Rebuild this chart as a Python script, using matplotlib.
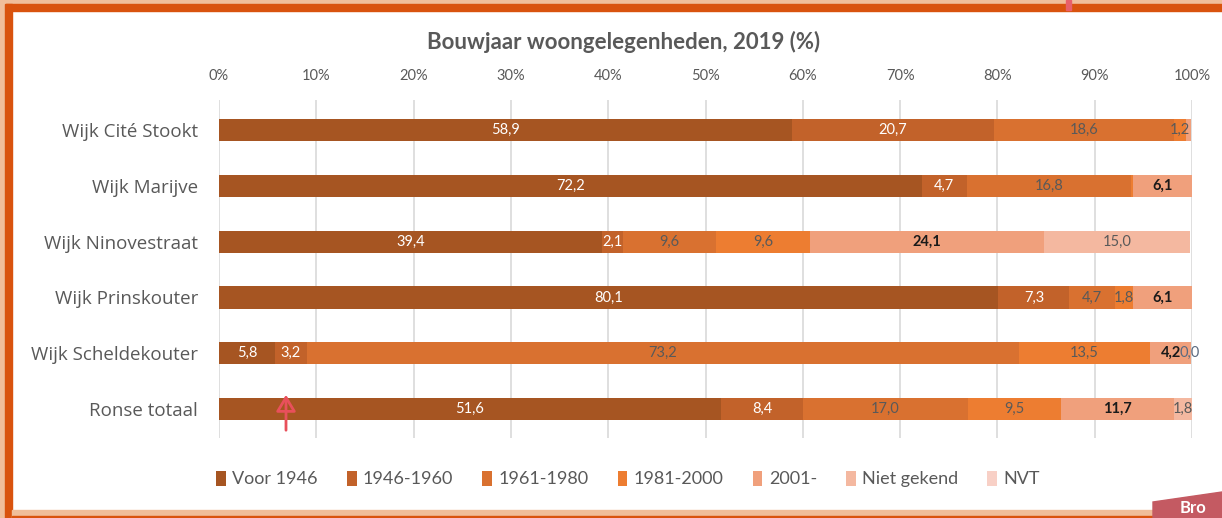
import matplotlib.pyplot as plt
import matplotlib.patches as mpatches
import numpy as np

plt.rcParams['font.family'] = ['Lato', 'DejaVu Sans']

wijken = ['Wijk Cité Stookt', 'Wijk Marijve', 'Wijk Ninovestraat', 'Wijk Prinskouter',
          'Wijk Scheldekouter', 'Ronse totaal']
reeksen = ['Voor 1946', '1946-1960', '1961-1980', '1981-2000', '2001-', 'Niet gekend', 'NVT']

voor_1946 = [58.9, 72.2, 39.4, 80.1, 5.8, 51.6]
j1946_1960 = [20.7, 4.7, 2.1, 7.3, 3.2, 8.4]
j1961_1980 = [18.6, 16.8, 9.6, 4.7, 73.2, 17.0]
j1981_2000 = [1.2, 0.2, 9.6, 1.8, 13.5, 9.5]
j2001 = [0.5, 6.1, 24.1, 6.1, 4.2, 11.7]
niet_gekend = [0.0, 0.0, 15.0, 0.0, 0.0, 1.8]
nvt = [0.0, 0.0, 0.0, 0.0, 0.0, 0.0]

# (row, series) where Excel still showed a 0,0 label
toon_nul = {(4, 5)}

kleuren = ['#A65522', '#C2622A', '#D97130', '#ED7D31', '#F0A07C', '#F4B8A0', '#F8D0C6']
label_kleur = ['white', 'white', '#595959', '#595959', '#1a1a1a', '#595959', '#595959']
label_vet = [False, False, False, False, True, False, False]

data = [voor_1946, j1946_1960, j1961_1980, j1981_2000, j2001, niet_gekend, nvt]

fig = plt.figure(figsize=(12.22, 5.18), dpi=100)
W, H = 1222, 518

ax = fig.add_axes([219 / W, 1 - 438 / H, (1192 - 219) / W, (438 - 100) / H])
y = np.arange(len(wijken))
links = np.zeros(len(wijken))
for i, (naam, vals) in enumerate(zip(reeksen, data)):
    vals = np.array(vals)
    ax.barh(y, vals, left=links, height=0.4, color=kleuren[i], label=naam, zorder=2)
    for j, v in enumerate(vals):
        if v >= 1 or (v == 0 and (j, i) in toon_nul):
            xpos = links[j] + v / 2
            kleur = label_kleur[i]
            if v == 0:
                xpos = links[j] - 0.1
                kleur = '#5a6a80'
            ax.text(xpos, y[j], f'{v:.1f}'.replace('.', ','), ha='center', va='center',
                    fontsize=10.5, color=kleur,
                    fontweight='bold' if label_vet[i] else 'normal', zorder=3)
    links += vals

ax.set_xlim(0, 100)
ax.set_ylim(5.52, -0.54)
ax.set_yticks(y)
ax.set_yticklabels(wijken, fontsize=13.5, color='#595959', family=['Open Sans', 'DejaVu Sans'])
ax.set_xticks(np.arange(0, 101, 10))
ax.set_xticklabels([f'{t}%' for t in range(0, 101, 10)], fontsize=10.5, color='#595959')
ax.xaxis.tick_top()
ax.tick_params(length=0, pad=12)
ax.tick_params(axis='y', pad=15)
ax.grid(axis='x', color='#D9D9D9', linewidth=1.2, zorder=0)
for s in ax.spines.values():
    s.set_visible(False)

fig.text(624 / W, 1 - 42 / H, 'Bouwjaar woongelegenheden, 2019 (%)', ha='center', va='center',
         fontsize=16, fontweight='bold', color='#595959')

fig.legend(loc='center', bbox_to_anchor=(628 / W, 1 - 479 / H), ncol=7, frameon=False,
           fontsize=13, labelcolor='#595959', handlelength=0.55, handleheight=0.9,
           handletextpad=0.35, columnspacing=1.6)

# frame decorations
peach = '#F0BE9A'
oranje = '#D9530E'
fig.patches.append(mpatches.Rectangle((0, 1 - 4 / H), 1, 4 / H, transform=fig.transFigure, color=peach))
fig.patches.append(mpatches.Rectangle((0, 1 - 11 / H), 1, 7 / H, transform=fig.transFigure, color=oranje))
fig.patches.append(mpatches.Rectangle((0, 0), 5 / W, 1, transform=fig.transFigure, color=peach))
fig.patches.append(mpatches.Rectangle((5 / W, 0), 7 / W, 1 - 4 / H, transform=fig.transFigure, color=oranje))
fig.patches.append(mpatches.Rectangle((12 / W, 0), 1, 8 / H, transform=fig.transFigure, color=peach))
fig.patches.append(mpatches.Rectangle((12 / W, 0), 1, 2 / H, transform=fig.transFigure, color=oranje))
fig.patches.append(mpatches.Rectangle((1066 / W, 1 - 10 / H), 5 / W, 10 / H, transform=fig.transFigure,
                                      color='#E8606A'))
fig.patches.append(mpatches.Polygon([(1153 / W, 1 - 502 / H), (1222 / W, 1 - 492 / H), (1, 0), (1153 / W, 0)],
                                    closed=True, transform=fig.transFigure, color='#C45A62'))
fig.text(1180 / W, 2 / H, 'Bro', fontsize=12, fontweight='bold', color='white', va='bottom')

fig.add_artist(mpatches.FancyArrowPatch((286 / W, 1 - 433 / H), (286 / W, 1 - 392 / H),
                                        transform=fig.transFigure, arrowstyle='-|>,head_width=3,head_length=5',
                                        color='#E8505B', linewidth=2, mutation_scale=2, fill=False))

fig.savefig('out.png', dpi=100)
